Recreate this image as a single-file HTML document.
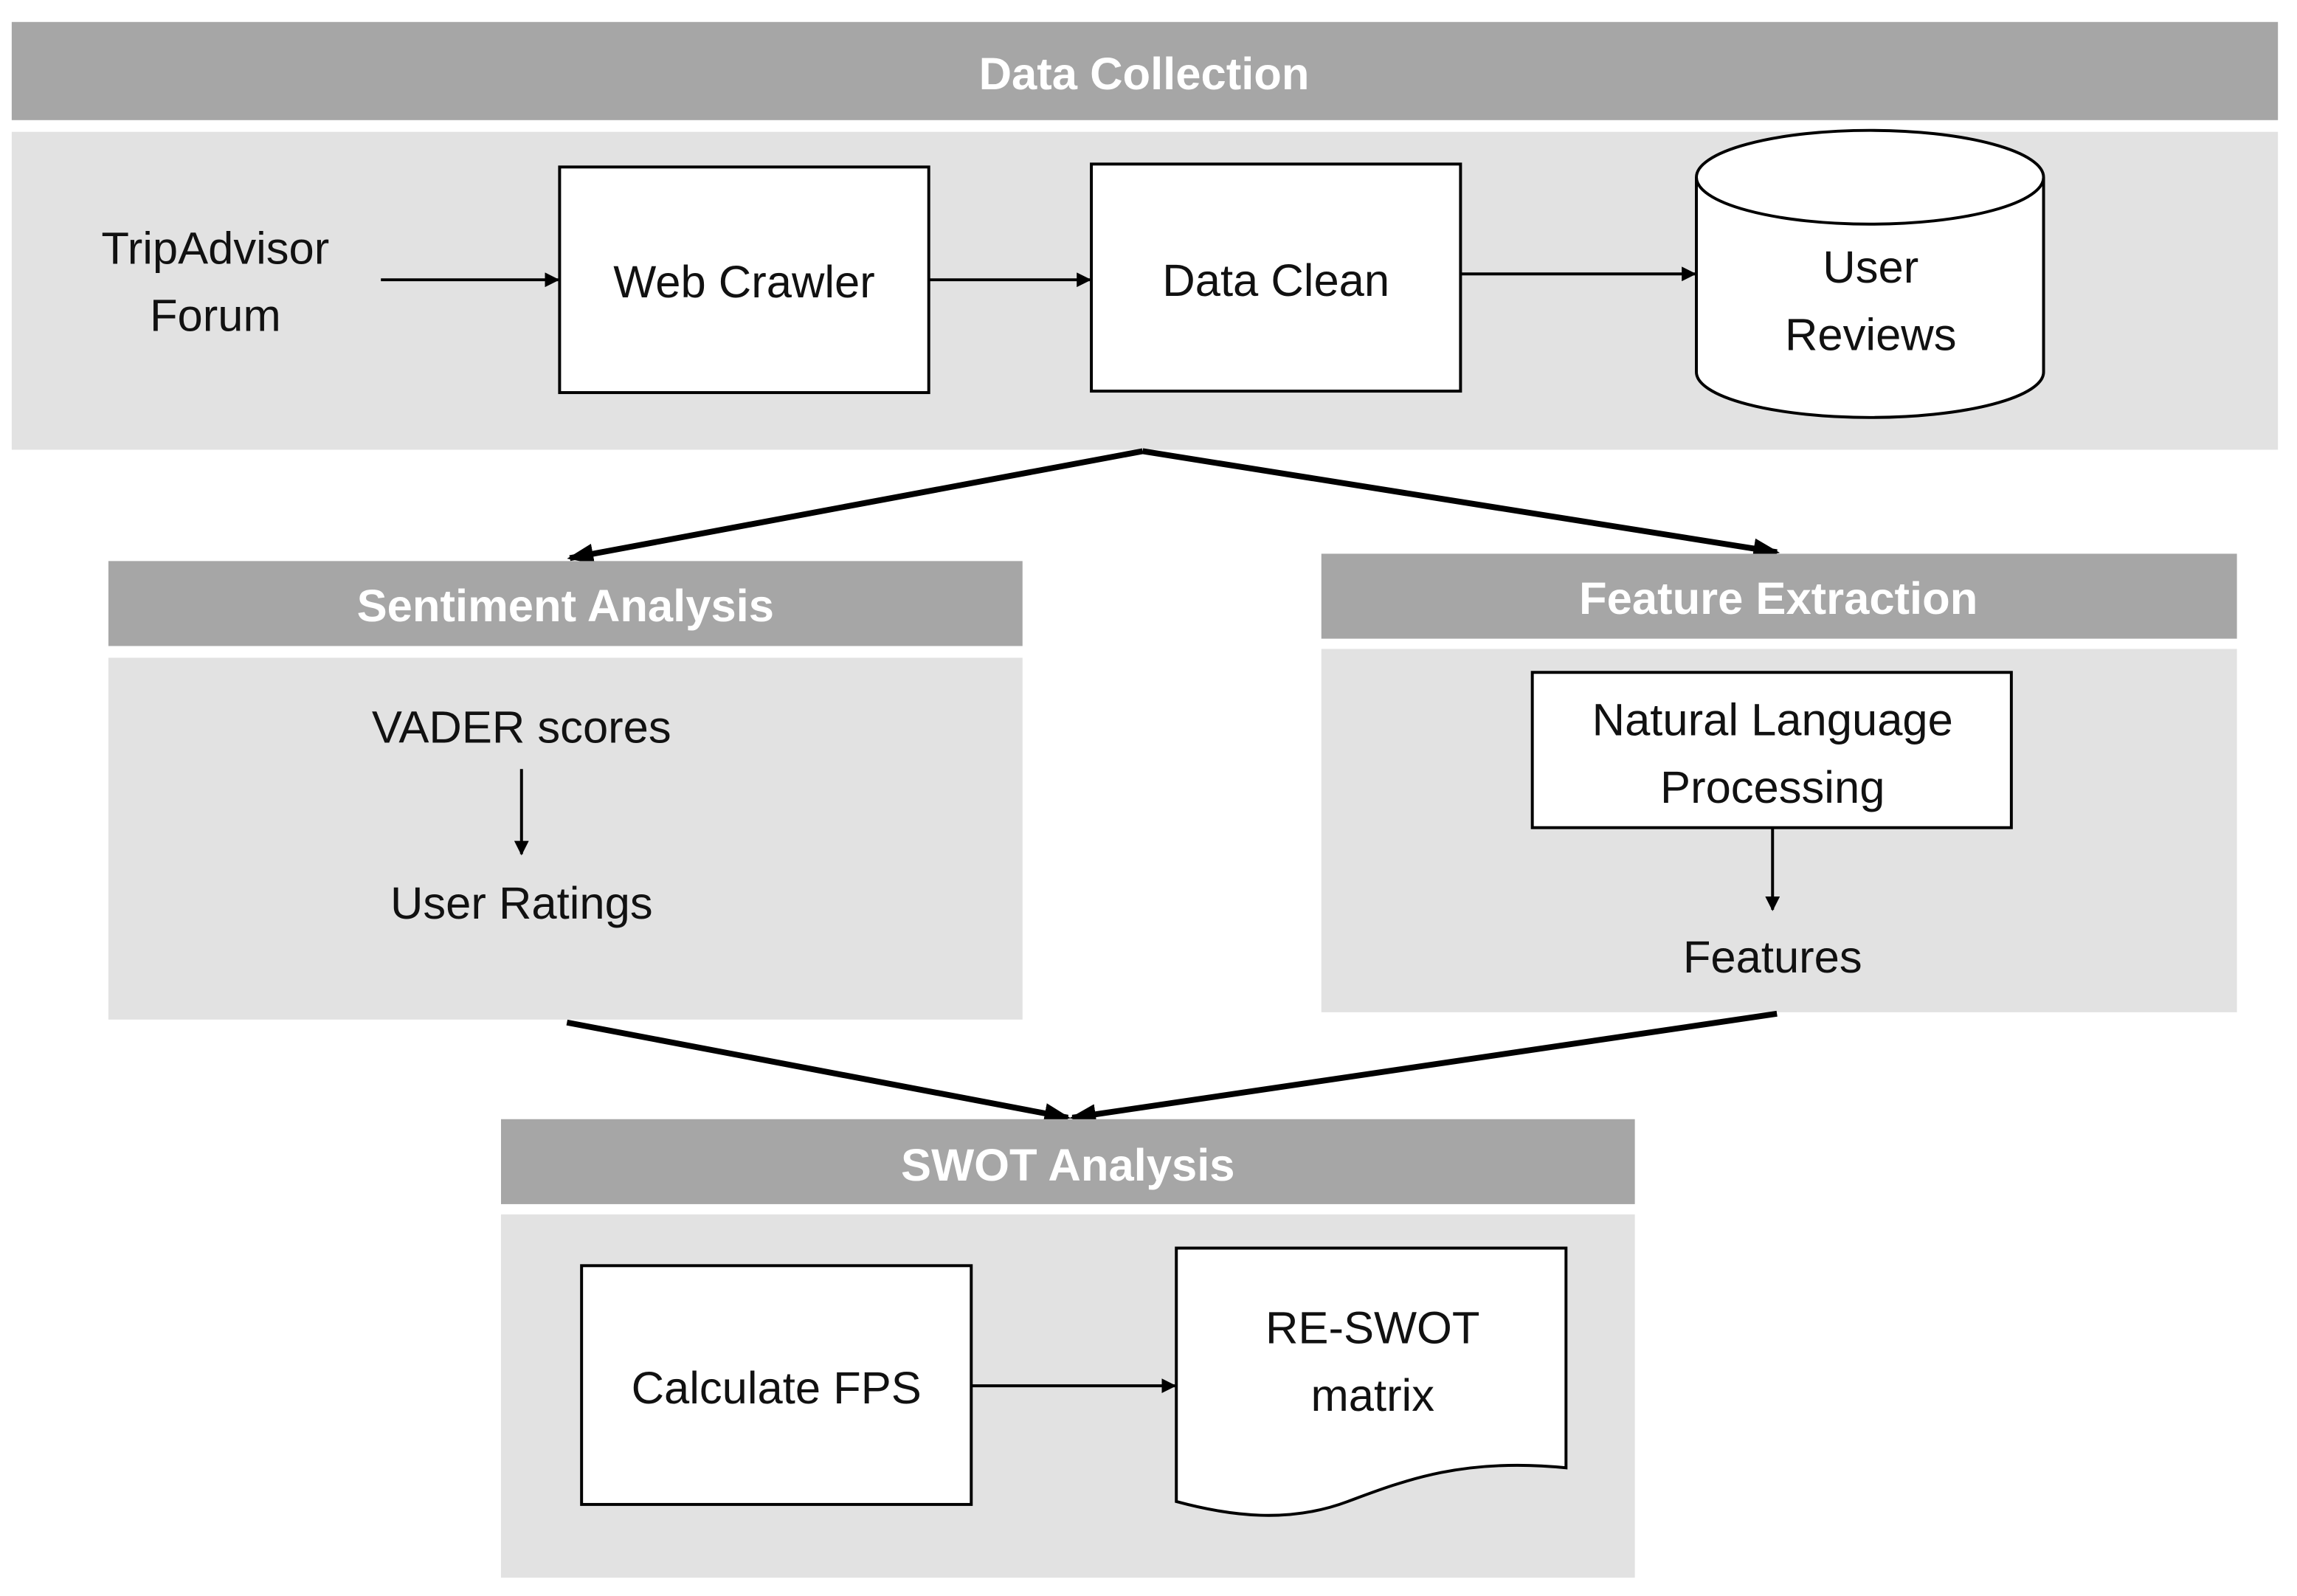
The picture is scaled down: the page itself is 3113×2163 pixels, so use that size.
<!DOCTYPE html>
<html><head><meta charset="utf-8"><style>
html,body{margin:0;padding:0;background:#fff;}
svg{display:block;}
text{font-family:"Liberation Sans",sans-serif;}
.h{fill:#fff;font-weight:bold;font-size:31px;text-anchor:middle;}
.t{fill:#111;font-size:31px;text-anchor:middle;}
</style></head><body>
<svg width="3113" height="2163" viewBox="0 0 1568 1089.5" preserveAspectRatio="none" xmlns="http://www.w3.org/2000/svg">
<defs>
<marker id="a" markerWidth="10" markerHeight="10" refX="9" refY="5" orient="auto" markerUnits="userSpaceOnUse"><path d="M0,0 L10,5 L0,10 z" fill="#000"/></marker>
<marker id="b" markerWidth="18" markerHeight="14" refX="16" refY="7" orient="auto" markerUnits="userSpaceOnUse"><path d="M0,0 L18,7 L0,14 z" fill="#000"/></marker>
</defs>
<rect width="1568" height="1089.5" fill="#fff"/>
<rect x="8" y="15" width="1547" height="67" fill="#a6a6a6"/>
<text class="h" x="781" y="61">Data Collection</text>
<rect x="8" y="90" width="1547" height="217" fill="#e2e2e2"/>
<text class="t" x="147" y="180">TripAdvisor</text>
<text class="t" x="147" y="226">Forum</text>
<line x1="260" y1="191" x2="381" y2="191" stroke="#000" stroke-width="2" marker-end="url(#a)"/>
<rect x="382" y="114" width="252" height="154" fill="#fff" stroke="#000" stroke-width="2"/>
<text class="t" x="508" y="203">Web Crawler</text>
<line x1="634" y1="191" x2="744" y2="191" stroke="#000" stroke-width="2" marker-end="url(#a)"/>
<rect x="745" y="112" width="252" height="155" fill="#fff" stroke="#000" stroke-width="2"/>
<text class="t" x="871" y="202">Data Clean</text>
<line x1="997" y1="187" x2="1157" y2="187" stroke="#000" stroke-width="2" marker-end="url(#a)"/>
<path d="M1158,121 L1158,254 A118.5,31 0 0 0 1395,254 L1395,121" fill="#fff" stroke="#000" stroke-width="2"/>
<ellipse cx="1276.5" cy="121" rx="118.5" ry="32" fill="#fff" stroke="#000" stroke-width="2"/>
<text class="t" x="1277" y="193">User</text>
<text class="t" x="1277" y="239">Reviews</text>
<line x1="780" y1="308" x2="389" y2="381" stroke="#000" stroke-width="4" marker-end="url(#b)"/>
<line x1="780" y1="308" x2="1213" y2="377" stroke="#000" stroke-width="4" marker-end="url(#b)"/>
<rect x="74" y="383" width="624" height="58" fill="#a6a6a6"/>
<text class="h" x="386" y="424">Sentiment Analysis</text>
<rect x="74" y="449" width="624" height="247" fill="#e2e2e2"/>
<text class="t" x="356" y="507">VADER scores</text>
<line x1="356" y1="525" x2="356" y2="583" stroke="#000" stroke-width="2" marker-end="url(#a)"/>
<text class="t" x="356" y="627">User Ratings</text>
<rect x="902" y="378" width="625" height="58" fill="#a6a6a6"/>
<text class="h" x="1214" y="419">Feature Extraction</text>
<rect x="902" y="443" width="625" height="248" fill="#e2e2e2"/>
<rect x="1046" y="459" width="327" height="106" fill="#fff" stroke="#000" stroke-width="2"/>
<text class="t" x="1210" y="502">Natural Language</text>
<text class="t" x="1210" y="548">Processing</text>
<line x1="1210" y1="565" x2="1210" y2="621" stroke="#000" stroke-width="2" marker-end="url(#a)"/>
<text class="t" x="1210" y="664">Features</text>
<line x1="387" y1="698" x2="729" y2="763" stroke="#000" stroke-width="4" marker-end="url(#b)"/>
<line x1="1213" y1="692" x2="732" y2="763" stroke="#000" stroke-width="4" marker-end="url(#b)"/>
<rect x="342" y="764" width="774" height="58" fill="#a6a6a6"/>
<text class="h" x="729" y="806">SWOT Analysis</text>
<rect x="342" y="829" width="774" height="248" fill="#e2e2e2"/>
<rect x="397" y="864" width="266" height="163" fill="#fff" stroke="#000" stroke-width="2"/>
<text class="t" x="530" y="958">Calculate FPS</text>
<line x1="663" y1="946" x2="802" y2="946" stroke="#000" stroke-width="2" marker-end="url(#a)"/>
<path d="M803,852 L1069,852 L1069,1002 C1000,995 960,1010 920,1025 C880,1040 840,1035 803,1025 Z" fill="#fff" stroke="#000" stroke-width="2"/>
<text class="t" x="937" y="917">RE-SWOT</text>
<text class="t" x="937" y="963">matrix</text>
</svg>
</body></html>
